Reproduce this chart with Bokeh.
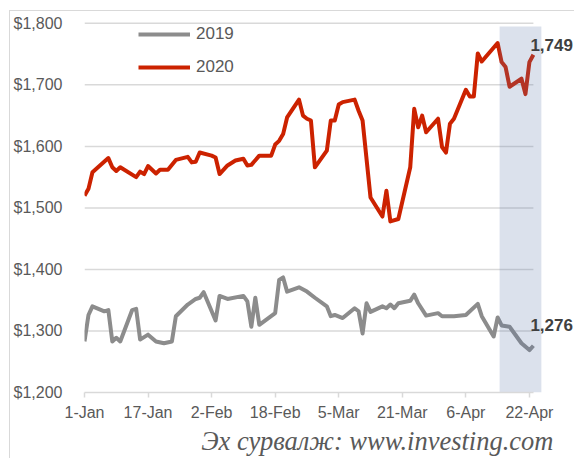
from bokeh.plotting import figure
from bokeh.models import (Range1d, FixedTicker, NumeralTickFormatter, Legend, LegendItem,
                          Label, Title)
from bokeh.embed import file_html
from bokeh.resources import INLINE

# ---- data (x = days since 1 Jan) ----
day_2020 = [0, 1, 2, 6, 7, 8, 9, 13, 14, 15, 16, 18, 19, 21, 23, 26, 27, 28, 29, 32, 33, 34, 36, 38,
            40, 41, 42, 44, 47, 48, 49, 50, 51, 54, 55, 56, 57, 58, 61, 62, 63, 64, 65, 68, 69, 70,
            72, 75, 76, 77, 79, 82, 83, 84, 85, 86, 89, 90, 91, 92, 93, 96, 97, 98, 99, 100, 104,
            105, 106, 107, 110, 111, 112, 113]
gold_2020 = [1520, 1531, 1558, 1581, 1566, 1560, 1566, 1550, 1559, 1555, 1568, 1556, 1562, 1562, 1578,
             1583, 1574, 1575, 1590, 1585, 1582, 1555, 1569, 1577, 1580, 1569, 1570, 1585, 1585, 1603,
             1609, 1620, 1647, 1676, 1650, 1645, 1642, 1566, 1593, 1642, 1642, 1668, 1672, 1676, 1658,
             1642, 1517, 1486, 1528, 1478, 1482, 1566, 1661, 1631, 1650, 1623, 1645, 1599, 1590, 1637,
             1645, 1692, 1681, 1681, 1751, 1738, 1768, 1737, 1729, 1697, 1710, 1685, 1737, 1749]

day_2019 = [0, 1, 2, 5, 6, 7, 8, 9, 12, 13, 14, 16, 18, 20, 22, 23, 26, 28, 29, 30, 33, 34, 36, 40,
            41, 42, 43, 44, 48, 49, 50, 51, 54, 56, 58, 61, 62, 63, 65, 68, 69, 70, 71, 72, 75, 76,
            77, 78, 79, 82, 83, 84, 86, 89, 90, 93, 96, 99, 100, 103, 104, 105, 107, 110, 112, 113]
gold_2019 = [1283, 1326, 1340, 1332, 1334, 1283, 1289, 1283, 1334, 1336, 1286, 1294, 1283, 1280, 1283,
             1324, 1343, 1352, 1354, 1363, 1317, 1357, 1352, 1357, 1348, 1307, 1354, 1310, 1329, 1383,
             1387, 1364, 1371, 1364, 1354, 1340, 1324, 1326, 1321, 1337, 1332, 1296, 1345, 1331, 1340,
             1337, 1343, 1337, 1345, 1349, 1359, 1345, 1325, 1329, 1324, 1324, 1326, 1344, 1324, 1291,
             1322, 1309, 1307, 1280, 1269, 1276]

tick_days = [0, 16, 32, 48, 64, 80, 96, 112]
tick_labels = ["1-Jan", "17-Jan", "2-Feb", "18-Feb", "5-Mar", "21-Mar", "6-Apr", "22-Apr"]
y_ticks = [1200, 1300, 1400, 1500, 1600, 1700, 1800]
shade_days = [104.5, 115.0]
shade_vals = [1200, 1795]
caption = "Эх сурвалж: www.investing.com"

RED = "#CC2200"
GRAY = "#8C8C8C"
TXT = "#595959"
GRID = "#D9D9D9"
FONT = "Liberation Sans"

p = figure(width=565, height=448, output_backend="svg", toolbar_location=None,
           x_range=Range1d(0, 123.6), y_range=Range1d(1200, 1803),
           min_border_left=73, min_border_top=10, min_border_right=0, min_border_bottom=67)
p.outline_line_color = None
p.xgrid.visible = False
p.ygrid.visible = False
p.styles = {"margin-left": "9px", "margin-top": "10px",
            "border-left": "1px solid #D9D9D9", "border-top": "1px solid #D9D9D9"}

# horizontal gridlines limited to the data span
last_day = max(day_2020)
p.multi_line(xs=[[0, last_day] for _ in y_ticks[1:]], ys=[[v, v] for v in y_ticks[1:]],
             line_color=GRID, line_width=1.5)

r19 = p.line(day_2019, gold_2019, line_color=GRAY, line_width=4, line_join="round")
r20 = p.line(day_2020, gold_2020, line_color=RED, line_width=4, line_join="round")

# highlighted period (drawn on top, translucent)
p.quad(left=shade_days[0], right=shade_days[1], bottom=shade_vals[0], top=shade_vals[1],
       fill_color=(90, 120, 170), fill_alpha=0.22, line_color=None)

# axes
p.xaxis.ticker = FixedTicker(ticks=tick_days)
p.xaxis.major_label_overrides = {d: l for d, l in zip(tick_days, tick_labels)}
p.xaxis.bounds = (0, last_day)
p.xaxis.axis_line_color = GRID
p.xaxis.axis_line_width = 1.5
p.xaxis.major_tick_line_color = GRID
p.xaxis.major_tick_line_width = 1.5
p.xaxis.major_tick_in = 0
p.xaxis.major_tick_out = 5
p.xaxis.minor_tick_line_color = None
p.xaxis.major_label_text_font = FONT
p.xaxis.major_label_text_font_size = "16px"
p.xaxis.major_label_text_color = TXT
p.xaxis.major_label_standoff = 6

p.yaxis.ticker = FixedTicker(ticks=y_ticks)
p.yaxis.formatter = NumeralTickFormatter(format="$0,0")
p.yaxis.axis_line_color = None
p.yaxis.major_tick_line_color = None
p.yaxis.minor_tick_line_color = None
p.yaxis.major_label_text_font = FONT
p.yaxis.major_label_text_font_size = "16px"
p.yaxis.major_label_text_color = TXT
p.yaxis.major_label_standoff = 16

# legend
legend = Legend(items=[LegendItem(label="2019", renderers=[r19]),
                       LegendItem(label="2020", renderers=[r20])],
                location=(54, 315), orientation="vertical",
                glyph_width=52, glyph_height=20, label_height=20, spacing=13,
                label_standoff=6, padding=0, margin=0,
                border_line_color=None, background_fill_alpha=0,
                label_text_font=FONT, label_text_font_size="17px", label_text_color=TXT)
p.add_layout(legend, "center")

# end-value labels
p.add_layout(Label(x=day_2020[-1], y=gold_2020[-1], text=f"{gold_2020[-1]:,}", x_offset=-3, y_offset=10,
                   text_baseline="middle", text_font=FONT, text_font_size="17px",
                   text_font_style="bold", text_color="#404040"))
p.add_layout(Label(x=day_2019[-1], y=gold_2019[-1], text=f"{gold_2019[-1]:,}", x_offset=-3, y_offset=21,
                   text_baseline="middle", text_font=FONT, text_font_size="17px",
                   text_font_style="bold", text_color="#404040"))

# source caption
p.add_layout(Title(text=caption, align="right", text_font="Liberation Serif",
                   text_font_style="italic", text_font_size="26.5px", text_color=TXT,
                   offset=22, standoff=0), "below")

open("out.html", "w").write(file_html(p, INLINE))
